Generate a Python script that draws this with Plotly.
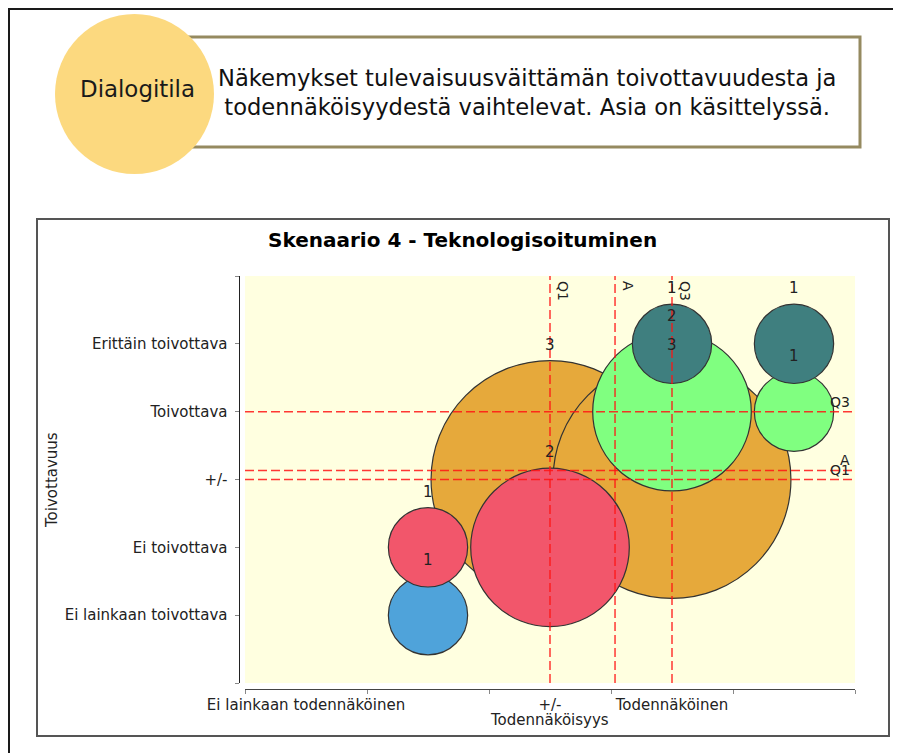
import plotly.graph_objects as go

W, H = 901, 753
OFF = 8  # page body margin in the browser

# ---------------- data ----------------
x_tick_vals = [1, 3, 4]
x_tick_text = ["Ei lainkaan todennäköinen", "+/-", "Todennäköinen"]
x_boundaries = [0.5, 1.5, 2.5, 3.5, 4.5, 5.5]

y_tick_vals = [0, 1, 2, 3, 4, 5, 6]
y_tick_text = ["", "Ei lainkaan toivottava", "Ei toivottava", "+/-", "Toivottava", "Erittäin toivottava", ""]

# series (one per desirability level) : x = todennäköisyys, y = toivottavuus, n = count
orange_x = [3, 4]
orange_y = [3, 3]
orange_n = [3, 3]

green_x = [4, 5]
green_y = [4, 4]
green_n = [2, 1]

teal_x = [4, 5]
teal_y = [5, 5]
teal_n = [1, 1]

blue_x = [2]
blue_y = [1]
blue_n = [1]

red_x = [2, 3]
red_y = [2, 2]
red_n = [1, 2]

# statistics lines
v_line_vals = [3, 3.533, 4]
v_line_text = ["Q1", "A", "Q3"]
h_line_vals = [3, 3.133, 4]
h_line_text = ["Q1", "A", "Q3"]

title_text = "Skenaario 4 - Teknologisoituminen"
x_title = "Todennäköisyys"
y_title = "Toivottavuus"
badge_text = "Dialogitila"
header_text = "Näkemykset tulevaisuusväittämän toivottavuudesta ja<br>todennäköisyydestä vaihtelevat. Asia on käsittelyssä."

# ---------------- style ----------------
FONT = "DejaVu Sans"
px_per_count = 79.3
sizeref = 1 / px_per_count

series = [
    (orange_x, orange_y, orange_n, "#E6A93B"),
    (green_x, green_y, green_n, "#80FF80"),
    (teal_x, teal_y, teal_n, "#3F7F7F"),
    (blue_x, blue_y, blue_n, "#4FA3DA"),
    (red_x, red_y, red_n, "#F2566B"),
]


def px(xp):
    return (xp - OFF) / W


def py(yp):
    return 1 - (yp - OFF) / H


fig = go.Figure()

for xs, ys, ns, col in series:
    fig.add_trace(go.Scatter(
        x=xs, y=ys, mode="markers",
        marker=dict(size=ns, sizemode="diameter", sizeref=sizeref, color=col,
                    opacity=1, line=dict(color="#333333", width=1.2)),
        hoverinfo="skip", showlegend=False, cliponaxis=False,
    ))

annotations = []
# count labels just above each bubble
for xs, ys, ns, col in series:
    for xv, yv, n in zip(xs, ys, ns):
        annotations.append(dict(x=xv, y=yv, xref="x", yref="y", text=str(n), showarrow=False,
                                xanchor="center", yanchor="bottom",
                                yshift=n * px_per_count / 2 + 5,
                                font=dict(family=FONT, size=15, color="#222222")))

shapes = []
# outer slide frame
shapes.append(dict(type="rect", xref="paper", yref="paper", x0=px(9), x1=px(930), y0=py(9), y1=py(790),
                   line=dict(color="#1a1a1a", width=2), fillcolor="white", layer="below"))
# header text box
shapes.append(dict(type="rect", xref="paper", yref="paper", x0=px(185), x1=px(860), y0=py(37), y1=py(147),
                   line=dict(color="#958A60", width=3), fillcolor="white", layer="below"))
# header circle
shapes.append(dict(type="circle", xref="paper", yref="paper", x0=px(55), x1=px(214), y0=py(14), y1=py(174),
                   line=dict(width=0), fillcolor="#FCD97F", layer="below"))
# chart box
shapes.append(dict(type="rect", xref="paper", yref="paper", x0=px(37), x1=px(889), y0=py(219), y1=py(736),
                   line=dict(color="#555555", width=2), fillcolor="white", layer="below"))
# plot background
shapes.append(dict(type="rect", xref="x domain", yref="y domain", x0=0, x1=1, y0=0, y1=1,
                   line=dict(width=0), fillcolor="#FFFFE0", layer="below"))

DASH = "9px,4px"
LINE_COL = "rgba(255,20,20,0.85)"
for v in v_line_vals:
    shapes.append(dict(type="line", xref="x", yref="y domain", x0=v, x1=v, y0=0, y1=1,
                       line=dict(color=LINE_COL, width=1.5, dash=DASH), layer="above"))
for v in h_line_vals:
    shapes.append(dict(type="line", xref="x domain", yref="y", x0=0, x1=1, y0=v, y1=v,
                       line=dict(color=LINE_COL, width=1.5, dash=DASH), layer="above"))

for v, t in zip(v_line_vals, v_line_text):
    annotations.append(dict(x=v, y=1, xref="x", yref="y domain", text=t, showarrow=False,
                            textangle=90, xanchor="left", yanchor="top", xshift=3, yshift=-3,
                            font=dict(family=FONT, size=14, color="#222222")))
for v, t in zip(h_line_vals, h_line_text):
    annotations.append(dict(x=1, y=v, xref="x domain", yref="y", text=t, showarrow=False,
                            xanchor="right", yanchor="bottom", xshift=-3, yshift=0,
                            font=dict(family=FONT, size=14, color="#222222")))

annotations += [
    dict(x=px(463), y=py(240), xref="paper", yref="paper", text="<b>" + title_text + "</b>",
         showarrow=False, xanchor="center", yanchor="middle",
         font=dict(family=FONT, size=20, color="black")),
    dict(x=px(549), y=py(720), xref="paper", yref="paper", text=x_title, showarrow=False,
         xanchor="center", yanchor="middle",
         font=dict(family=FONT, size=15, color="#222222")),
    dict(x=px(52), y=py(480), xref="paper", yref="paper", text=y_title, showarrow=False,
         xanchor="center", yanchor="middle",
         textangle=-90, font=dict(family=FONT, size=15, color="#222222")),
    dict(x=px(137), y=py(89), xref="paper", yref="paper", text=badge_text, showarrow=False,
         xanchor="center", yanchor="middle",
         font=dict(family=FONT, size=22.9, color="#1a1a1a")),
    dict(x=px(527), y=py(92), xref="paper", yref="paper", text=header_text, showarrow=False,
         xanchor="center", yanchor="middle",
         align="center", font=dict(family=FONT, size=22.6, color="#111111")),
]

fig.update_layout(
    width=W, height=H,
    autosize=False,
    margin=dict(l=0, r=0, t=0, b=0, pad=0, autoexpand=False),
    paper_bgcolor="white",
    plot_bgcolor="rgba(0,0,0,0)",
    shapes=shapes,
    annotations=annotations,
    xaxis=dict(domain=[px(245), px(855)], range=[0.5, 5.5], anchor="free", position=py(689),
               automargin=False,
               showline=True, linecolor="#444444", linewidth=1, showgrid=False, zeroline=False,
               tickmode="array", tickvals=x_tick_vals, ticktext=x_tick_text, ticks="",
               ticklabelstandoff=2,
               tickfont=dict(family=FONT, size=15, color="#222222"),
               minor=dict(tickmode="array", tickvals=x_boundaries, ticks="outside", ticklen=4,
                          tickcolor="#888888", showgrid=False)),
    yaxis=dict(domain=[py(683), py(276)], range=[0, 6], anchor="free", position=px(238.5),
               automargin=False,
               showline=True, linecolor="#222222", linewidth=1, showgrid=False, zeroline=False,
               tickmode="array", tickvals=y_tick_vals, ticktext=y_tick_text, ticks="outside",
               ticklen=4, tickcolor="#888888", ticklabelstandoff=4,
               tickfont=dict(family=FONT, size=15, color="#222222")),
)

fig.write_html("out.html")
